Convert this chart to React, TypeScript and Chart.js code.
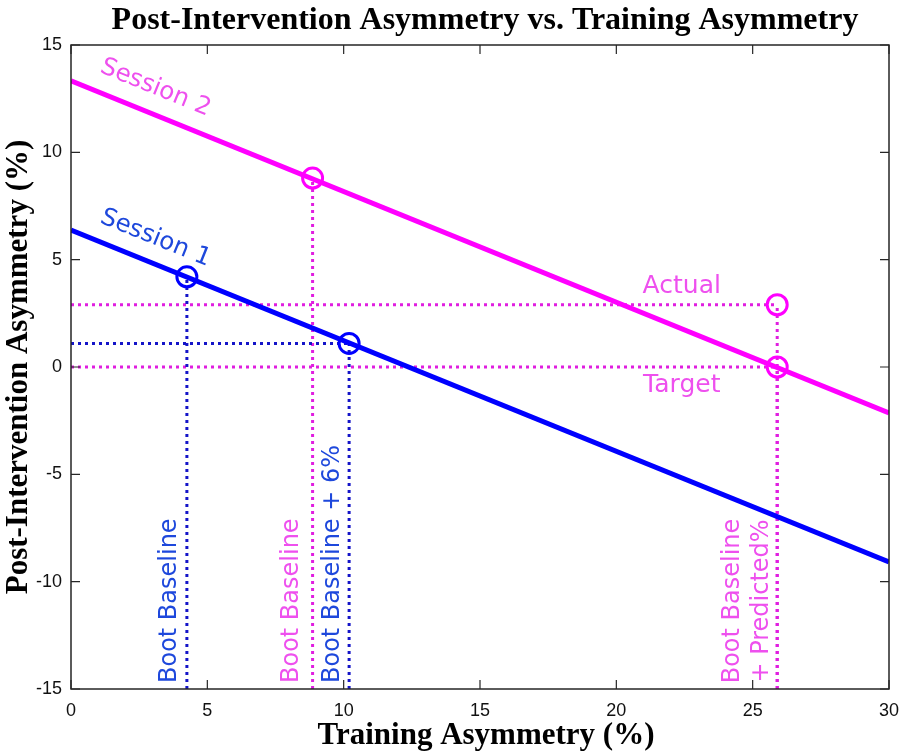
import React, { useEffect, useRef } from "react";
import { Chart, registerables } from "chart.js";

Chart.register(...registerables);

// ---- data ----
const xRange = [0, 30];
const yRange = [-15, 15];
const xTickStep = 5;
const yTickStep = 5;

const session1LineX = [0, 30];
const session1LineY = [6.38, -9.08];
const session2LineX = [0, 30];
const session2LineY = [13.33, -2.14];

const session1PointX = [4.25, 10.2];
const session1PointY = [4.2, 1.1];
const session1HasHLine = [false, true];

const session2PointX = [8.86, 25.9, 25.9];
const session2PointY = [8.8, 2.9, 0];
const session2HasHLine = [false, true, true];

const titleText = "Post-Intervention Asymmetry vs. Training Asymmetry";
const xTitleText = "Training Asymmetry (%)";
const yTitleText = "Post-Intervention Asymmetry (%)";

// annotation texts (anchored in data coordinates)
const sessionLabels = ["Session 2", "Session 1"];
const sessionLabelX = [3.1, 3.1];
const sessionLabelY = [13.0, 6.0];

const flatLabels = ["Actual", "Target"];
const flatLabelX = [22.4, 22.4];
const flatLabelY = [3.75, -0.85];

const vertLabels = ["Boot Baseline", "Boot Baseline", "Boot Baseline + 6%"];
const vertLabelX = [3.63, 8.1, 9.6];
const vertLabelColorIdx = [0, 1, 0];

const stackedLabels = ["Boot Baseline", "+ Predicted%"];
const stackedLabelX = [24.28, 25.34];
const stackedLabelY = -10.9;

// ---- styles ----
const BLUE = "#0000FF";
const MAGENTA = "#FF00FF";
const BLUE_DOT = "#1414C8";
const MAGENTA_DOT = "#E01EE0";
const BLUE_TEXT = "#1E48DC";
const MAGENTA_TEXT = "#EE50EE";
const AXIS = "#262626";

function guideDatasets(px: number[], py: number[], hasH: boolean[], color: string) {
  const out: any[] = [];
  px.forEach((x, i) => {
    out.push({
      data: [
        { x, y: yRange[0] },
        { x, y: py[i] },
      ],
      showLine: true,
      borderColor: color,
      borderWidth: 3,
      borderDash: [3, 4],
      borderCapStyle: "butt",
      pointRadius: 0,
      order: 3,
    });
    if (hasH[i]) {
      out.push({
        data: [
          { x: xRange[0], y: py[i] },
          { x, y: py[i] },
        ],
        showLine: true,
        borderColor: color,
        borderWidth: 3,
        borderDash: [3, 4],
        borderCapStyle: "butt",
        pointRadius: 0,
        order: 3,
      });
    }
  });
  return out;
}

const overlayPlugin = {
  id: "overlay",
  afterDatasetsDraw(chart: any) {
    const { ctx, chartArea: a, scales } = chart;
    const xs = scales.x;
    const ys = scales.y;
    ctx.save();

    // box + inward ticks
    ctx.strokeStyle = AXIS;
    ctx.lineWidth = 1.5;
    ctx.strokeRect(a.left, a.top, a.right - a.left, a.bottom - a.top);
    ctx.lineWidth = 1.2;
    const tl = 9;
    ctx.beginPath();
    for (let v = xRange[0]; v <= xRange[1]; v += xTickStep) {
      const p = xs.getPixelForValue(v);
      ctx.moveTo(p, a.bottom);
      ctx.lineTo(p, a.bottom - tl);
      ctx.moveTo(p, a.top);
      ctx.lineTo(p, a.top + tl);
    }
    for (let v = yRange[0]; v <= yRange[1]; v += yTickStep) {
      const p = ys.getPixelForValue(v);
      ctx.moveTo(a.left, p);
      ctx.lineTo(a.left + tl, p);
      ctx.moveTo(a.right, p);
      ctx.lineTo(a.right - tl, p);
    }
    ctx.stroke();

    // session labels, rotated along line
    const lineSets = [
      [session2LineX, session2LineY],
      [session1LineX, session1LineY],
    ];
    sessionLabels.forEach((t, i) => {
      const [lx, ly] = lineSets[i];
      const ang = Math.atan2(
        ys.getPixelForValue(ly[1]) - ys.getPixelForValue(ly[0]),
        xs.getPixelForValue(lx[1]) - xs.getPixelForValue(lx[0])
      );
      ctx.save();
      ctx.translate(xs.getPixelForValue(sessionLabelX[i]), ys.getPixelForValue(sessionLabelY[i]));
      ctx.rotate(ang);
      ctx.font = "24.5px 'DejaVu Sans'";
      ctx.fillStyle = i === 0 ? MAGENTA_TEXT : BLUE_TEXT;
      ctx.textAlign = "center";
      ctx.textBaseline = "middle";
      ctx.fillText(t, 0, 0);
      ctx.restore();
    });

    // Actual / Target
    ctx.font = "25px 'DejaVu Sans'";
    ctx.fillStyle = MAGENTA_TEXT;
    ctx.textAlign = "center";
    ctx.textBaseline = "middle";
    flatLabels.forEach((t, i) => {
      ctx.fillText(t, xs.getPixelForValue(flatLabelX[i]), ys.getPixelForValue(flatLabelY[i]));
    });

    // vertical labels
    vertLabels.forEach((t, i) => {
      ctx.save();
      ctx.translate(xs.getPixelForValue(vertLabelX[i]), a.bottom - 6);
      ctx.rotate(-Math.PI / 2);
      ctx.font = "24px 'DejaVu Sans'";
      ctx.fillStyle = vertLabelColorIdx[i] === 0 ? BLUE_TEXT : MAGENTA_TEXT;
      ctx.textAlign = "left";
      ctx.textBaseline = "middle";
      ctx.fillText(t, 0, 0);
      ctx.restore();
    });
    stackedLabels.forEach((t, i) => {
      ctx.save();
      ctx.translate(xs.getPixelForValue(stackedLabelX[i]), ys.getPixelForValue(stackedLabelY));
      ctx.rotate(-Math.PI / 2);
      ctx.font = "24px 'DejaVu Sans'";
      ctx.fillStyle = MAGENTA_TEXT;
      ctx.textAlign = "center";
      ctx.textBaseline = "middle";
      ctx.fillText(t, 0, 0);
      ctx.restore();
    });

    ctx.restore();
  },
  afterDraw(chart: any) {
    const { ctx, chartArea: a } = chart;
    ctx.save();
    ctx.fillStyle = "#000";
    ctx.textAlign = "center";
    ctx.textBaseline = "alphabetic";
    const cx = (a.left + a.right) / 2;
    ctx.font = "bold 32px 'Liberation Serif'";
    ctx.fillText(titleText, cx + 5, 29);
    ctx.font = "bold 31px 'Liberation Serif'";
    ctx.fillText(xTitleText, cx + 6, 744);
    ctx.translate(27, (a.top + a.bottom) / 2);
    ctx.rotate(-Math.PI / 2);
    ctx.fillText(yTitleText, 0, 0);
    ctx.restore();
  },
};

export default function App() {
  const ref = useRef<HTMLCanvasElement | null>(null);

  useEffect(() => {
    document.body.style.margin = "0";
    const canvas = ref.current;
    if (!canvas) return;

    const datasets: any[] = [
      ...guideDatasets(session1PointX, session1PointY, session1HasHLine, BLUE_DOT),
      ...guideDatasets(session2PointX, session2PointY, session2HasHLine, MAGENTA_DOT),
      {
        label: "Session 2",
        data: session2LineX.map((x, i) => ({ x, y: session2LineY[i] })),
        showLine: true,
        borderColor: MAGENTA,
        borderWidth: 5,
        pointRadius: 0,
        order: 2,
      },
      {
        label: "Session 1",
        data: session1LineX.map((x, i) => ({ x, y: session1LineY[i] })),
        showLine: true,
        borderColor: BLUE,
        borderWidth: 5,
        pointRadius: 0,
        order: 2,
      },
      {
        label: "S2 points",
        data: session2PointX.map((x, i) => ({ x, y: session2PointY[i] })),
        showLine: false,
        pointRadius: 10,
        pointBorderWidth: 3,
        pointBorderColor: MAGENTA,
        pointBackgroundColor: "rgba(0,0,0,0)",
        order: 1,
      },
      {
        label: "S1 points",
        data: session1PointX.map((x, i) => ({ x, y: session1PointY[i] })),
        showLine: false,
        pointRadius: 10,
        pointBorderWidth: 3,
        pointBorderColor: BLUE,
        pointBackgroundColor: "rgba(0,0,0,0)",
        order: 1,
      },
    ];

    const tickFont = { family: "'Liberation Sans', Arial, sans-serif", size: 18 };

    const chart = new Chart(canvas, {
      type: "scatter",
      data: { datasets },
      options: {
        animation: false,
        responsive: false,
        devicePixelRatio: 1,
        layout: { padding: { top: 45, right: 14, left: 0, bottom: 0 } },
        plugins: { legend: { display: false }, tooltip: { enabled: false }, title: { display: false } },
        scales: {
          x: {
            type: "linear",
            min: xRange[0],
            max: xRange[1],
            ticks: { stepSize: xTickStep, font: tickFont, color: "#111", padding: 11, maxRotation: 0 },
            grid: { display: false, drawTicks: false },
            border: { display: false },
            afterFit: (s: any) => {
              s.height = 67;
              s.paddingLeft = 0;
              s.paddingRight = 0;
            },
          },
          y: {
            type: "linear",
            min: yRange[0],
            max: yRange[1],
            ticks: { stepSize: yTickStep, font: tickFont, color: "#111", padding: 9 },
            grid: { display: false, drawTicks: false },
            border: { display: false },
            afterFit: (s: any) => {
              s.width = 71;
              s.paddingTop = 0;
              s.paddingBottom = 0;
            },
          },
        },
      },
      plugins: [overlayPlugin],
    });

    return () => chart.destroy();
  }, []);

  return (
    <div style={{ width: 903, height: 756, position: "relative" }}>
      <canvas ref={ref} width={903} height={756} style={{ display: "block" }} />
    </div>
  );
}
